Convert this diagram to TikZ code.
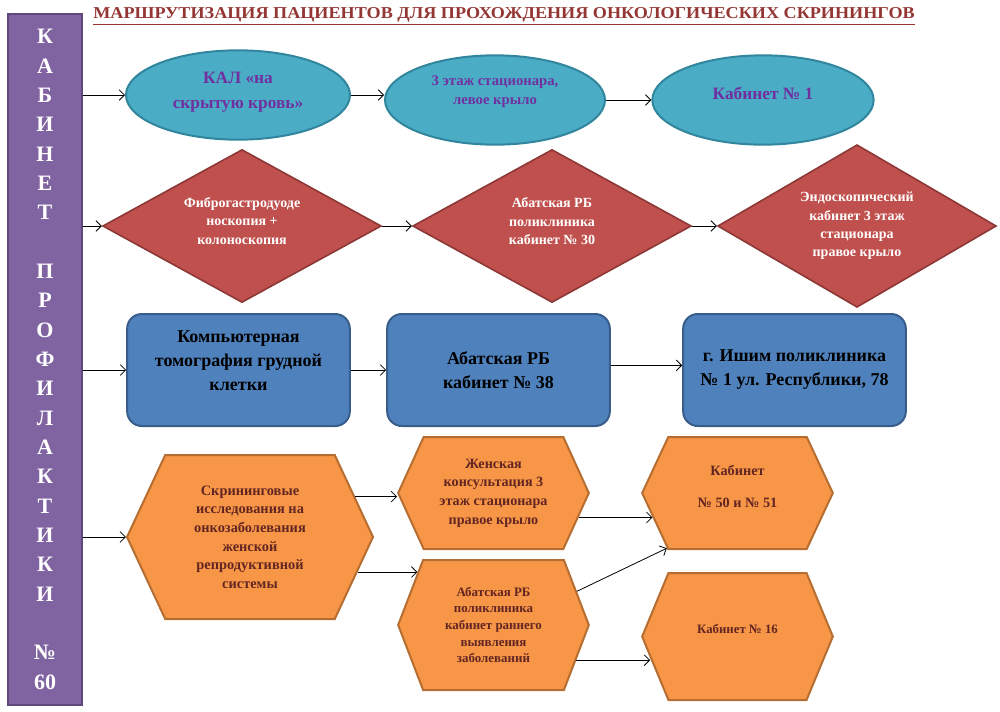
\documentclass[tikz,border=0pt]{standalone}
\usepackage{fontspec}
\setmainfont{Liberation Serif}
\usetikzlibrary{arrows.meta,shapes.geometric,shapes.symbols}
\definecolor{ttl}{HTML}{943634}
\definecolor{vio}{HTML}{8064A2}
\definecolor{viod}{HTML}{5F497A}
\definecolor{aq}{HTML}{4BACC6}
\definecolor{aqd}{HTML}{31859C}
\definecolor{aqt}{HTML}{7030A0}
\definecolor{rd}{HTML}{C0504D}
\definecolor{rdd}{HTML}{8C3836}
\definecolor{bl}{HTML}{4F81BD}
\definecolor{bld}{HTML}{385D8A}
\definecolor{og}{HTML}{F79646}
\definecolor{ogd}{HTML}{B66D31}
\definecolor{ogt}{HTML}{632523}
\tikzset{
  sidebar/.style={draw=viod, fill=vio, line width=1.2pt, minimum width=55.5pt, minimum height=518pt, inner sep=0pt, align=center, text=white, font=\fontsize{16.5}{22}\selectfont\bfseries},
  oval/.style={ellipse, draw=aqd, fill=aq, line width=1.5pt, inner sep=0pt, align=center, text=aqt, minimum width=166pt, minimum height=67pt},
  rhomb/.style={diamond, draw=rdd, fill=rd, line width=1.2pt, inner sep=0pt, aspect=1.8, align=center, text=white, font=\fontsize{10.5}{13.8}\selectfont\bfseries, minimum width=209pt},
  card/.style={rectangle, rounded corners=11pt, draw=bld, fill=bl, line width=1.5pt, align=center, text=black, minimum width=167pt, minimum height=84pt, font=\fontsize{13.5}{18}\selectfont\bfseries},
  hexa/.style={signal, signal to=east and west, draw=ogd, fill=og, line width=1.5pt, inner sep=0pt, align=center, text=ogt, minimum width=143pt},
  arr/.style={-{Straight Barb[length=4pt,width=8pt]}, line width=0.6pt},
}

\begin{document}
\begin{tikzpicture}[x=0.75pt,y=-0.75pt]
  \useasboundingbox (0,0) rectangle (1000,711);
  % title and side bar
  \node[anchor=base, inner sep=0pt, text=ttl] (title) at (504,18)
    {\resizebox{616pt}{8.25pt}{\bfseries\underline{МАРШРУТИЗАЦИЯ ПАЦИЕНТОВ ДЛЯ ПРОХОЖДЕНИЯ ОНКОЛОГИЧЕСКИХ СКРИНИНГОВ}}};
  \node[sidebar] (bar) at (45,359.5)
    {К\\А\\Б\\И\\Н\\Е\\Т\\[22pt]П\\Р\\О\\Ф\\И\\Л\\А\\К\\Т\\И\\К\\И\\[22pt]№\\60};

  % row 1
  \node[oval, font=\fontsize{13}{18.75}\selectfont\bfseries, minimum width=168pt, text depth=7.3pt] (kal) at (238,95) {КАЛ «на\\скрытую кровь»};
  \node[oval, font=\fontsize{11}{14.25}\selectfont\bfseries, minimum width=165pt, text depth=14.4pt] (etazh) at (495,100) {3 этаж стационара,\\левое крыло};
  \node[oval, font=\fontsize{13}{16}\selectfont\bfseries, text depth=10.5pt] (kab1) at (763,100) {Кабинет № 1};
  \draw[arr] (bar.east |- kal.west) -- (kal.west);
  \draw[arr] (kal.east) -- (kal.east -| etazh.west);
  \draw[arr] (etazh.east) -- (kab1.west);

  % row 2
  \node[rhomb, minimum height=114.75pt, text depth=7.7pt] (fgds) at (242,226) {Фиброгастродуоде\\носкопия +\\колоноскопия};
  \node[rhomb, minimum height=114.75pt, text depth=7.5pt] (abat30) at (552,226) {Абатская РБ\\поликлиника\\кабинет № 30};
  \node[rhomb, minimum height=122pt] (endo) at (857,226) {Эндоскопический\\кабинет 3 этаж\\стационара\\правое крыло};
  \draw[arr] (bar.east |- fgds.west) -- (fgds.west);
  \draw[arr] (fgds.east) -- (abat30.west);
  \draw[arr] (abat30.east) -- (endo.west);

  % row 3
  \node[card, text depth=13.5pt] (kt) at (238.5,370) {Компьютерная\\томография грудной\\клетки};
  \node[card] (abat38) at (498.5,370) {Абатская РБ\\кабинет № 38};
  \node[card] (ishim) at (794.5,370) {г. Ишим поликлиника\\№ 1 ул. Республики, 78};
  \draw[arr] (bar.east |- kt.west) -- (kt.west);
  \draw[arr] (kt.east) -- (abat38.west);
  \draw[arr] ([yshift=3.5pt]abat38.east) -- ([yshift=3.5pt]abat38.east -| ishim.west);

  % row 4
  \node[hexa, minimum width=184.5pt, minimum height=123pt, signal pointer angle=130,
        font=\fontsize{10.8}{14}\selectfont\bfseries] (skr) at (250,537)
    {Скрининговые\\исследования на\\онкозаболевания\\женской\\репродуктивной\\системы};
  \node[hexa, minimum height=84pt, signal pointer angle=131,
        font=\fontsize{10.6}{14}\selectfont\bfseries] (zhk) at (493.5,493)
    {Женская\\консультация 3\\этаж стационара\\правое крыло};
  \node[hexa, minimum height=97.5pt, signal pointer angle=138,
        font=\fontsize{9.7}{12.5}\selectfont\bfseries] (rann) at (493.5,625)
    {Абатская РБ\\поликлиника\\кабинет раннего\\выявления\\заболеваний};
  \node[hexa, minimum height=84pt, signal pointer angle=130, text depth=10.5pt,
        font=\fontsize{10.7}{12}\selectfont\bfseries] (kab50) at (737.5,493)
    {Кабинет\\[12pt]№ 50 и № 51};
  \node[hexa, minimum height=95.25pt, signal pointer angle=135, text depth=12pt,
        font=\fontsize{9.6}{12}\selectfont\bfseries] (kab16) at (737.5,636.5)
    {Кабинет № 16};
  \draw[arr] (bar.east |- skr.west) -- (skr.west);
  \draw[arr] (skr.21) -- (skr.21 -| zhk.west);
  \draw[arr] (skr.-18) -- (skr.-18 -| rann.145);
  \draw[arr] (zhk.-16) -- (zhk.-16 -| kab50.196);
  \draw[arr] (rann.22) -- (kab50.218);
  \draw[arr] (rann.-23) -- (rann.-23 -| kab16.194);
\end{tikzpicture}
\end{document}
